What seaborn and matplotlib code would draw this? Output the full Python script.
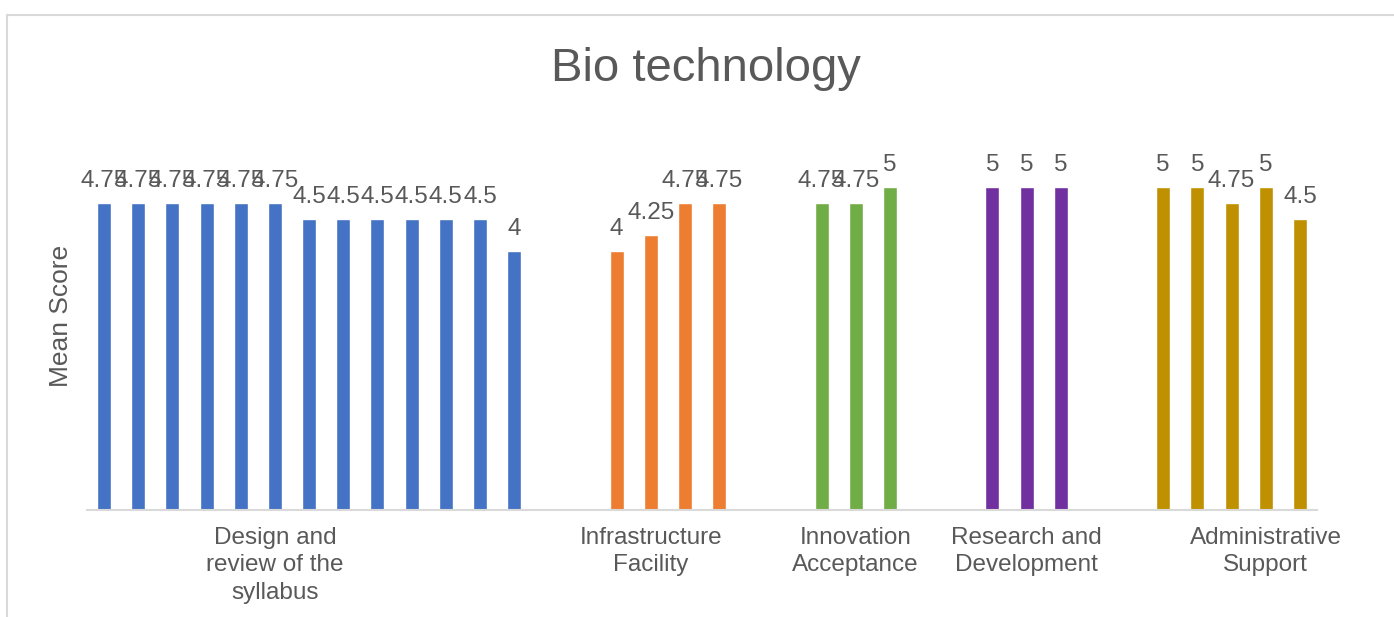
import matplotlib
matplotlib.use("Agg")
import matplotlib.pyplot as plt
import seaborn as sns
import pandas as pd
from matplotlib.lines import Line2D

# ---- data ----
groups = ["Design and review of the syllabus", "Infrastructure Facility",
          "Innovation Acceptance", "Research and Development", "Administrative Support"]
design_values = [4.75, 4.75, 4.75, 4.75, 4.75, 4.75, 4.5, 4.5, 4.5, 4.5, 4.5, 4.5, 4]
infra_values = [4, 4.25, 4.75, 4.75]
innov_values = [4.75, 4.75, 5]
research_values = [5, 5, 5]
admin_values = [5, 5, 4.75, 5, 4.5]
group_labels = ["Design and\nreview of the\nsyllabus", "Infrastructure\nFacility",
                "Innovation\nAcceptance", "Research and\nDevelopment", "Administrative\nSupport"]
colors = ["#4472C4", "#ED7D31", "#70AD47", "#7030A0", "#BF9000"]

# slot layout (Excel leaves two empty slots between groups)
group_start = [0, 15, 21, 26, 31]
label_slot = [5, 16, 22, 27, 34]
n_slots = 36

all_values = [design_values, infra_values, innov_values, research_values, admin_values]
rows = []
for g, start, vals in zip(groups, group_start, all_values):
    for i, v in enumerate(vals):
        rows.append({"slot": f"s{start + i}", "value": v, "group": g})
df = pd.DataFrame(rows)
order = [f"s{i}" for i in range(n_slots)]

sns.set_theme(style="white")
plt.rcParams["font.family"] = ["Liberation Sans", "DejaVu Sans"]
text_color = "#595959"

fig = plt.figure(figsize=(13.94, 6.17), dpi=100)
ax = fig.add_axes([87 / 1394, 1 - 510 / 617, (1317 - 87) / 1394, (510 - 122) / 617])

sns.barplot(data=df, x="slot", y="value", hue="group", order=order,
            hue_order=groups, palette=colors, dodge=False, width=0.41,
            legend=False, ax=ax, saturation=1)

for cont in ax.containers:
    ax.bar_label(cont, fmt="%g", padding=8, fontsize=17.5, color=text_color)

ax.set_xlim(-0.5, n_slots - 0.5)
ax.set_ylim(0, 6)
ax.set_yticks([])
ax.set_xticks(label_slot)
ax.set_xticklabels(group_labels, fontsize=17.5, color=text_color, linespacing=1.32)
ax.tick_params(axis="x", length=0, pad=12)
ax.set_xlabel("")
ax.set_ylabel("Mean Score", fontsize=19, color=text_color, labelpad=10)
for s in ["top", "right", "left"]:
    ax.spines[s].set_visible(False)
ax.spines["bottom"].set_color("#D9D9D9")
ax.spines["bottom"].set_linewidth(1.5)

fig.text(706 / 1394, 1 - 81 / 617, "Bio technology", fontsize=34,
         color=text_color, ha="center", va="baseline")

# chart-area border (partially cropped in the reference)
fig.add_artist(Line2D([7 / 1394, 1.0], [1 - 15 / 617, 1 - 15 / 617],
                      transform=fig.transFigure, color="#D9D9D9", lw=1.5))
fig.add_artist(Line2D([7 / 1394, 7 / 1394], [0, 1 - 15 / 617],
                      transform=fig.transFigure, color="#D9D9D9", lw=1.5))

fig.savefig("out.png", dpi=100, facecolor="white")
